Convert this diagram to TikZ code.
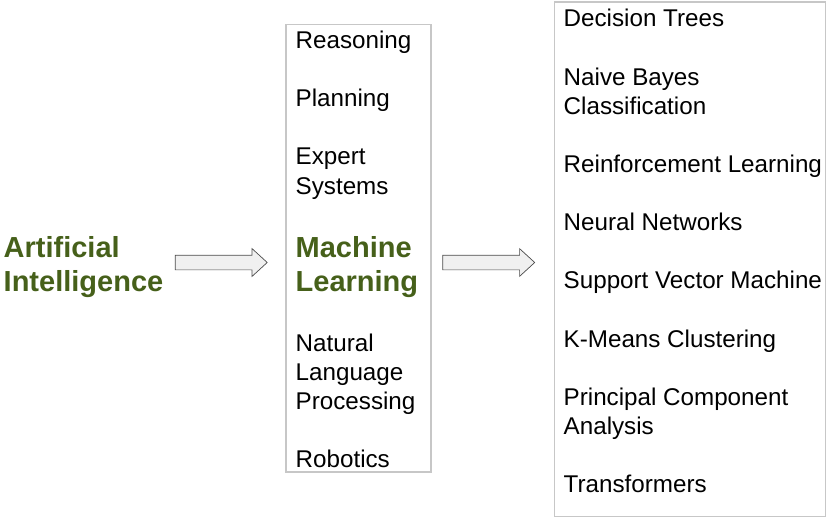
\documentclass[tikz,border=0pt]{standalone}
\usepackage{fontspec}
\setmainfont{Liberation Sans}
\usetikzlibrary{
  shapes.arrows,
  positioning
}
\definecolor{aigreen}{HTML}{46601A}

\begin{document}
\begin{tikzpicture}[
      x=1pt,y=-1pt,
      item/.style={
         anchor=base west,
         inner sep=0pt,
         font=\fontsize{24.2}{29}\selectfont
      },
      topic/.style={
         anchor=base west,
         inner sep=0pt,
         text=aigreen,
         font=\fontsize{29}{34}\selectfont\bfseries
      },
      list box/.style={
         rectangle,
         inner sep=0pt,
         draw=black!22,
         line width=1.2pt
      },
      block arrow/.style={
         single arrow,
         inner xsep=0pt,
         inner ysep=7pt,
         text height=0pt,
         text depth=0pt,
         minimum height=92pt,
         single arrow head extend=6.5pt,
         single arrow tip angle=85,
         draw=black!70,
         fill=black!6,
         line width=0.7pt
      }
    ]
    \useasboundingbox (0,0) rectangle (830,519);
    % boxes
    \node (mlbox) [list box, minimum width=145pt, minimum height=447.7pt] at (358.5,248.2) {};
    \node (algbox) [list box, minimum width=271pt, minimum height=514.7pt] at (690,259.3) {};
    % left
    \node (ai1) [topic] at (3.5,257) {Artificial};
    \node (ai2) [topic] at (3.5,291) {Intelligence};
    % middle list
    \node (rs) [item] at (295.5,48.5) {Reasoning};
    \node (pl) [item] at (295.5,106.7) {Planning};
    \node (es1) [item] at (295.5,164.9) {Expert};
    \node (es2) [item] at (295.5,194) {Systems};
    \node (ml1) [topic] at (295.5,257) {Machine};
    \node (ml2) [topic] at (295.5,291) {Learning};
    \node (nlp1) [item] at (295.5,351.1) {Natural};
    \node (nlp2) [item] at (295.5,380.2) {Language};
    \node (nlp3) [item] at (295.5,409.3) {Processing};
    \node (rb) [item] at (295.5,467.5) {Robotics};
    % right list
    \node (dt) [item] at (563.5,27) {Decision Trees};
    \node (nb1) [item] at (563.5,85.2) {Naive Bayes};
    \node (nb2) [item] at (563.5,114.3) {Classification};
    \node (rl) [item] at (563.5,172.5) {Reinforcement Learning};
    \node (nn) [item] at (563.5,230.7) {Neural Networks};
    \node (svm) [item] at (563.5,288.9) {Support Vector Machine};
    \node (km) [item] at (563.5,347.1) {K-Means Clustering};
    \node (pca1) [item] at (563.5,405.3) {Principal Component};
    \node (pca2) [item] at (563.5,434.4) {Analysis};
    \node (tf) [item] at (563.5,492.6) {Transformers};
    % arrows
    \node (arrA) [block arrow] at (217.2,262.5) {};
    \node (arrB) [block arrow] at (484.7,262.5) {};
\end{tikzpicture}
\end{document}
